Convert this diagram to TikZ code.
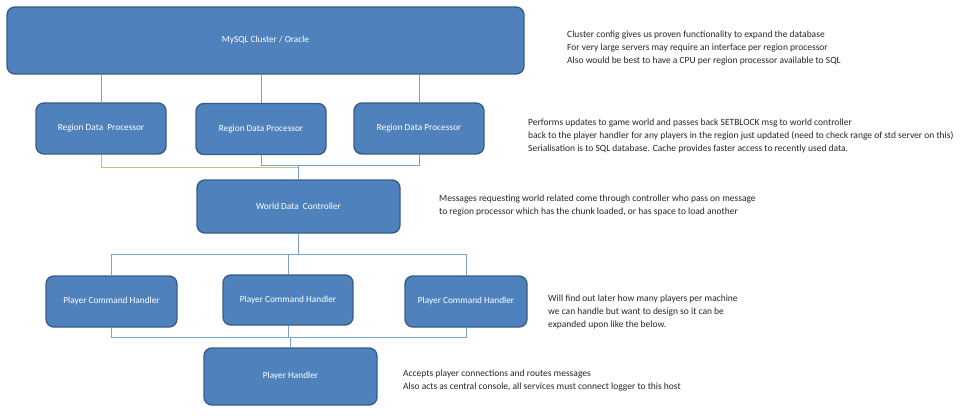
\documentclass[tikz,border=0pt]{standalone}
\usepackage{fontspec}
\setmainfont{Carlito}
\usepackage{xcolor}
\usetikzlibrary{positioning}
\definecolor{boxfill}{HTML}{4F81BD}
\definecolor{boxline}{HTML}{385D8A}
\definecolor{linkblue}{HTML}{7EA2D0}
\definecolor{linkgreen}{HTML}{B5C77E}
\definecolor{notetext}{HTML}{262626}
\tikzset{
 box/.style={draw=boxline, fill=boxfill, line width=1.4pt, rounded corners=8pt, text=white, inner sep=0pt, font=\fontsize{9.3}{11}\selectfont},
 link/.style={draw=linkblue, line width=0.8pt},
 linkg/.style={draw=linkgreen, line width=0.8pt},
 note/.style={anchor=west, align=left, inner sep=0pt, text=notetext, font=\fontsize{9.5}{13}\selectfont}
}
\begin{document}
\begin{tikzpicture}[x=1pt, y=-1pt]
\useasboundingbox[fill=white] (0,0) rectangle (960,418);
\node[box, minimum width=517pt, minimum height=67pt] (db) at (265.5,40.5) {MySQL Cluster / Oracle};
\node[box, minimum width=130pt, minimum height=51pt] (rdp1) at (101,128.5) {Region Data\ \ Processor};
\node[box, minimum width=130pt, minimum height=51pt] (rdp2) at (261,129) {Region Data Processor};
\node[box, minimum width=130pt, minimum height=51pt] (rdp3) at (419,128.5) {Region Data Processor};
\node[box, minimum width=203pt, minimum height=53pt] (wdc) at (298.5,206.5) {World Data\ \ Controller};
\node[box, minimum width=131pt, minimum height=51pt] (pch1) at (111.5,301.5) {Player Command Handler};
\node[box, minimum width=130pt, minimum height=50pt] (pch2) at (288,300) {Player Command Handler};
\node[box, minimum width=122pt, minimum height=51pt] (pch3) at (466,301.5) {Player Command Handler};
\node[box, minimum width=173pt, minimum height=57pt] (ph) at (290.5,376.5) {Player Handler};
\coordinate (rbus) at (0,165);
\coordinate (gbus) at (0,167);
\coordinate (cbus) at (0,254);
\coordinate (pbus) at (0,337);
\draw[link] (db.south -| rdp1) -- (rdp1.north);
\draw[link] (db.south -| rdp2) -- (rdp2.north);
\draw[link] (db.south -| rdp3) -- (rdp3.north);
\draw[linkg] (rdp1.south) |- (wdc.north |- gbus);
\draw[link] (rdp2.south) |- (rbus -| rdp3) -- (rdp3.south);
\draw[link] (rbus -| wdc) -- (wdc.north);
\draw[link] (wdc.south) -- (cbus -| wdc);
\draw[link] (pch1.north) |- (cbus -| pch3) -- (pch3.north);
\draw[link] (cbus -| pch2) -- (pch2.north);
\draw[link] (pch1.south) |- (pbus -| pch3) -- (pch3.south);
\draw[link] (pch2.south) -- (pbus -| pch2);
\draw[link] (pbus -| ph) -- (ph.north);
\node[note] (n1) at (567,48) {Cluster config gives us proven functionality to expand the database\\For very large servers may require an interface per region processor\\Also would be best to have a CPU per region processor available to SQL};
\node[note] (n2) at (528,136) {Performs updates to game world and passes back SETBLOCK msg to world controller\\back to the player handler for any players in the region just updated (need to check range of std server on this)\\Serialisation is to SQL database. Cache provides faster access to recently used data.};
\node[note] (n3) at (439,205.5) {Messages requesting world related come through controller who pass on message\\to region processor which has the chunk loaded, or has space to load another};
\node[note] (n4) at (548,312) {Will find out later how many players per machine\\we can handle but want to design so it can be\\expanded upon like the below.};
\node[note] (n5) at (403,380.5) {Accepts player connections and routes messages\\Also acts as central console, all services must connect logger to this host};
\end{tikzpicture}
\end{document}
